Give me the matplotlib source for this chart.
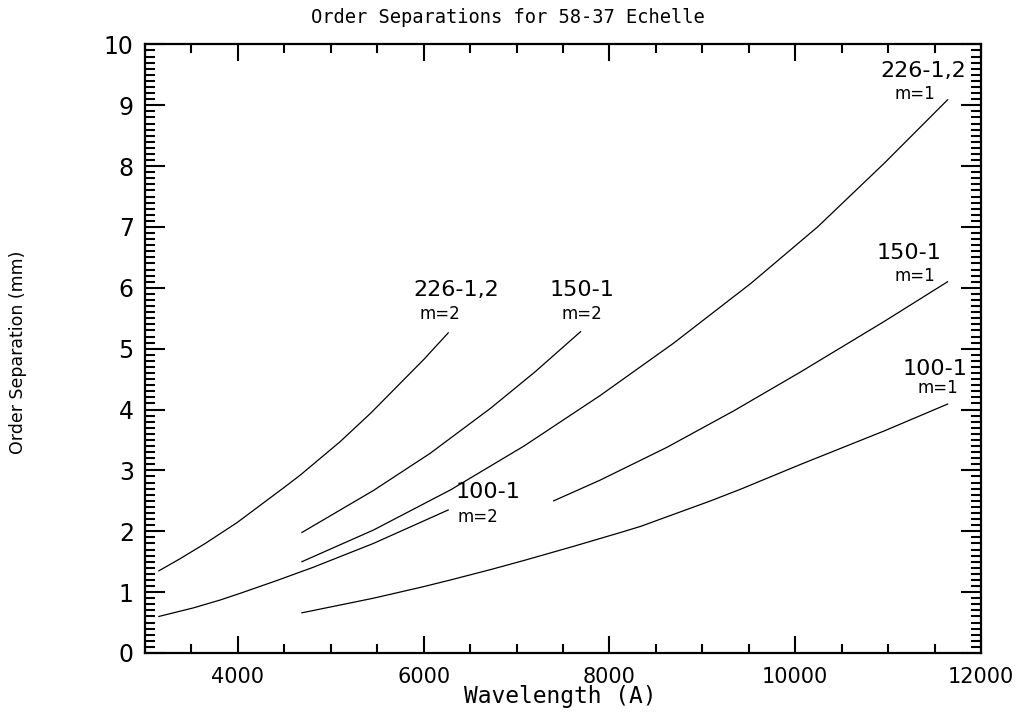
import matplotlib.pyplot as plt
from matplotlib.ticker import MultipleLocator

# Curvas: longitud de onda (A) y separación (mm)
lam_226_m2 = [3150, 3380, 3650, 3990, 4490, 4670, 5100, 5430, 6000, 6265]
sep_226_m2 = [1.35, 1.55, 1.80, 2.14, 2.71, 2.92, 3.47, 3.94, 4.82, 5.26]

lam_150_m2 = [4690, 5460, 6070, 6500, 6720, 7200, 7690]
sep_150_m2 = [1.98, 2.67, 3.28, 3.77, 4.02, 4.62, 5.28]

lam_100_m2 = [3150, 3520, 3810, 4025, 4420, 4815, 5460, 6265]
sep_100_m2 = [0.60, 0.74, 0.87, 0.98, 1.19, 1.41, 1.80, 2.35]

lam_226_m1 = [4690, 5460, 6290, 7080, 7900, 8690, 9520, 10240, 10960, 11640]
sep_226_m1 = [1.50, 2.02, 2.68, 3.40, 4.23, 5.09, 6.07, 7.00, 8.05, 9.09]

lam_150_m1 = [7400, 7900, 8620, 9340, 10060, 10960, 11640]
sep_150_m1 = [2.50, 2.84, 3.38, 3.98, 4.62, 5.45, 6.10]

lam_100_m1 = [4690, 5140, 5460, 6000, 6290, 6720, 7080, 7620, 8120, 8335,
              9090, 9410, 10060, 10960, 11640]
sep_100_m1 = [0.66, 0.80, 0.90, 1.09, 1.20, 1.37, 1.52, 1.755, 1.98, 2.08,
              2.50, 2.69, 3.10, 3.65, 4.09]

# etiquetas: (texto grande, texto m, x, y grande, x, y m)
etiquetas = [
    ("226-1,2", "m=2", 6352, 5.96, 6180, 5.57),
    ("150-1", "m=2", 7710, 5.96, 7700, 5.57),
    ("100-1", "m=2", 6692, 2.64, 6589, 2.23),
    ("226-1,2", "m=1", 11374, 9.56, 11288, 9.18),
    ("150-1", "m=1", 11228, 6.58, 11288, 6.19),
    ("100-1", "m=1", 11509, 4.67, 11530, 4.36),
]

fig = plt.figure(figsize=(10.16, 7.22), dpi=100)
ax = fig.add_axes([0.1426, 0.0956, 0.8230, 0.8429])

curvas = [(lam_226_m2, sep_226_m2), (lam_150_m2, sep_150_m2), (lam_100_m2, sep_100_m2),
          (lam_226_m1, sep_226_m1), (lam_150_m1, sep_150_m1), (lam_100_m1, sep_100_m1)]
for lam, sep in curvas:
    ax.plot(lam, sep, color='black', linewidth=0.9)

fuente = 'DejaVu Sans'
for grande, m, xg, yg, xm, ym in etiquetas:
    ax.text(xg, yg, grande, ha='center', va='center', fontsize=16,
            family=fuente)
    ax.text(xm, ym, m, ha='center', va='center', fontsize=12,
            family=fuente)

ax.set_xlim(3000, 12000)
ax.set_ylim(0, 10)
ax.xaxis.set_major_locator(MultipleLocator(2000))
ax.xaxis.set_minor_locator(MultipleLocator(500))
ax.yaxis.set_major_locator(MultipleLocator(1))
ax.yaxis.set_minor_locator(MultipleLocator(0.1))

ax.tick_params(axis='both', which='both', direction='in', top=True, right=True, width=1.5)
ax.tick_params(axis='x', which='major', length=12.5, pad=10)
ax.tick_params(axis='x', which='minor', length=6.5)
ax.tick_params(axis='y', which='major', length=14.5, pad=8)
ax.tick_params(axis='y', which='minor', length=7.2)
for s in ax.spines.values():
    s.set_linewidth(1.6)

for lbl in ax.get_xticklabels():
    lbl.set_family(fuente)
    lbl.set_fontsize(15)
for lbl in ax.get_yticklabels():
    lbl.set_family(fuente)
    lbl.set_fontsize(17)

fig.text(0.5, 0.976, "Order Separations for 58-37 Echelle", ha='center', va='center',
         family='DejaVu Sans Mono', fontsize=13.5)
fig.text(0.5515, 0.035, "Wavelength (A)", ha='center', va='center',
         family='DejaVu Sans Mono', fontsize=16.5)
fig.text(0.018, 0.512, "Order Separation (mm)", ha='center', va='center', rotation=90,
         family='DejaVu Sans', fontsize=12.5)

fig.savefig('out.png', dpi=100)
